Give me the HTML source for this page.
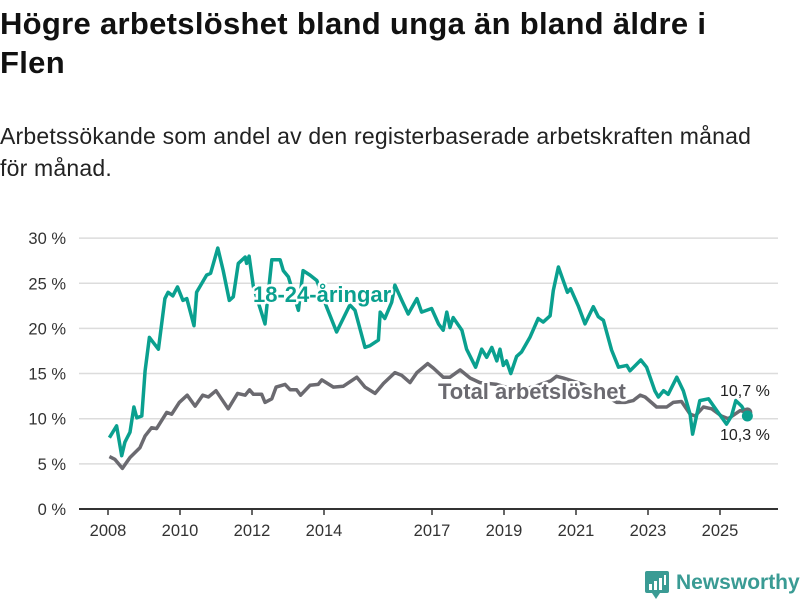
<!DOCTYPE html>
<html><head><meta charset="utf-8">
<style>
body{margin:0;background:#fff;font-family:"Liberation Sans","DejaVu Sans",sans-serif;}
#wrap{position:relative;width:800px;height:600px;overflow:hidden;}
h1{position:absolute;left:0;top:4px;margin:0;font-size:31px;line-height:39px;font-weight:bold;color:#111;width:800px;letter-spacing:0.3px;white-space:nowrap;}
.sub{position:absolute;left:0;top:120px;font-size:23px;line-height:32px;color:#222;width:800px;letter-spacing:0.2px;white-space:nowrap;}
</style></head>
<body><div id="wrap">
<h1>Högre arbetslöshet bland unga än bland äldre i<br>Flen</h1>
<div class="sub">Arbetssökande som andel av den registerbaserade arbetskraften månad<br>för månad.</div>
<svg id="chart" width="800" height="600" style="position:absolute;left:0;top:0"></svg>
</div>
<script>
const yTicks=[0,5,10,15,20,25,30];
const yTickLabels=["0 %","5 %","10 %","15 %","20 %","25 %","30 %"];
const xTicks=[2008,2010,2012,2014,2017,2019,2021,2023,2025];
const youthYears=[2008.04,2008.24,2008.38,2008.47,2008.61,2008.72,2008.80,2008.94,2009.03,2009.15,2009.40,2009.58,2009.67,2009.80,2009.93,2010.08,2010.19,2010.39,2010.46,2010.74,2010.85,2011.05,2011.20,2011.37,2011.48,2011.62,2011.81,2011.85,2011.92,2012.04,2012.36,2012.55,2012.78,2012.87,2013.01,2013.29,2013.42,2013.61,2013.80,2014.07,2014.35,2014.72,2014.86,2015.14,2015.28,2015.51,2015.56,2015.69,2015.88,2015.97,2016.16,2016.34,2016.58,2016.71,2016.99,2017.18,2017.31,2017.41,2017.50,2017.59,2017.83,2017.96,2018.21,2018.38,2018.52,2018.66,2018.80,2018.89,2018.98,2019.07,2019.19,2019.35,2019.49,2019.72,2019.95,2020.09,2020.28,2020.37,2020.51,2020.76,2020.85,2021.06,2021.25,2021.48,2021.62,2021.76,2021.99,2022.18,2022.41,2022.50,2022.80,2022.96,2023.19,2023.29,2023.43,2023.56,2023.80,2023.98,2024.17,2024.24,2024.44,2024.68,2024.91,2025.18,2025.32,2025.44,2025.60,2025.76];
const youthValues=[7.9,9.2,5.9,7.4,8.5,11.3,10.1,10.3,15.3,19,17.7,23.3,24,23.6,24.6,23.1,23.3,20.3,24,25.9,26.1,28.9,26.4,23.1,23.5,27.2,27.9,27.2,28,24.6,20.5,27.6,27.6,26.4,25.7,22,26.4,25.9,25.3,22.4,19.6,22.6,22,17.9,18.1,18.7,21.8,21.1,22.9,24.8,23.1,21.6,23.3,21.8,22.2,20.5,19.8,21.8,20.1,21.2,19.8,17.7,15.7,17.7,16.8,17.9,16.4,17.7,15.9,16.4,15,16.9,17.4,19,21.1,20.7,21.4,24.2,26.8,24,24.4,22.5,20.5,22.4,21.3,20.9,17.6,15.7,15.9,15.3,16.5,15.7,13.1,12.4,13.1,12.7,14.6,13.1,10.5,8.3,12,12.2,10.9,9.4,10.3,12,11.4,10.3];
const totalYears=[2008.04,2008.19,2008.40,2008.61,2008.89,2009.03,2009.21,2009.35,2009.63,2009.77,2009.98,2010.20,2010.42,2010.63,2010.79,2011.00,2011.34,2011.60,2011.81,2011.93,2012.04,2012.27,2012.36,2012.55,2012.67,2012.92,2013.06,2013.24,2013.35,2013.61,2013.84,2013.94,2014.26,2014.54,2014.91,2015.14,2015.42,2015.65,2015.97,2016.16,2016.39,2016.58,2016.88,2017.04,2017.31,2017.50,2017.78,2018.06,2018.33,2018.8,2019.3,2019.8,2020.3,2020.46,2020.65,2021.2,2021.7,2022.13,2022.36,2022.59,2022.78,2022.92,2023.24,2023.52,2023.70,2023.93,2024.17,2024.31,2024.54,2024.77,2025.04,2025.23,2025.56,2025.76];
const totalValues=[5.8,5.5,4.5,5.7,6.8,8.1,9,8.9,10.7,10.5,11.8,12.6,11.4,12.6,12.4,13.1,11.1,12.8,12.6,13.2,12.7,12.7,11.8,12.2,13.5,13.8,13.2,13.2,12.6,13.7,13.8,14.3,13.5,13.6,14.6,13.5,12.8,13.9,15.1,14.8,14,15.1,16.1,15.6,14.6,14.6,15.4,14.5,14,13.8,13.2,13.5,14.2,14.7,14.5,13.8,12.8,11.8,11.8,12,12.6,12.4,11.3,11.3,11.8,11.9,10.5,10.3,11.3,11.1,10.3,10,10.9,10.7];

const NS="http://www.w3.org/2000/svg";
const svg=document.getElementById('chart');
const X0=79,X1=778,Y0=509,PX_PER=9.03;
const x=yr=>108+(yr-2008)*36;
const y=v=>Y0-v*PX_PER;
function mk(tag,attrs,parent){const e=document.createElementNS(NS,tag);for(const k in attrs)e.setAttribute(k,attrs[k]);(parent||svg).appendChild(e);return e;}

yTicks.forEach((t,i)=>{
  if(t>0){const g=mk('line',{x1:X0,x2:X1,y1:y(t),y2:y(t),stroke:'#dcdcdc','stroke-width':1.5});
  
  }
  const l=mk('text',{x:66,y:y(t)+6,'text-anchor':'end','font-size':16.5,fill:'#333'});
  l.textContent=yTickLabels[i];
  
  
});
const ax=mk('line',{x1:X0,x2:X1,y1:Y0,y2:Y0,stroke:'#333','stroke-width':2});


xTicks.forEach(t=>{
  const tk=mk('line',{x1:x(t),x2:x(t),y1:Y0,y2:Y0+6,stroke:'#333','stroke-width':1.5});
  
  
  const l=mk('text',{x:x(t),y:Y0+27,'text-anchor':'middle','font-size':16.5,fill:'#333'});
  l.textContent=t;
  
  
});
function pathOf(xs,vs){return xs.map((t,i)=>(i?'L':'M')+x(t).toFixed(1)+','+y(vs[i]).toFixed(1)).join('');}
const tl=mk('path',{d:pathOf(totalYears,totalValues),fill:'none',stroke:'#6b6a70','stroke-width':3.5,'stroke-linejoin':'round'});


const yl=mk('path',{d:pathOf(youthYears,youthValues),fill:'none',stroke:'#0aa08f','stroke-width':3.5,'stroke-linejoin':'round'});



function lbl(txt,tx,ty,col,bold,size,halo){
  const t=mk('text',{x:tx,y:ty,'font-size':size,fill:col,'font-weight':bold?'bold':'normal',stroke:halo?'#fff':'none','stroke-width':halo?5:0,'paint-order':'stroke','stroke-linejoin':'round'});
  t.textContent=txt;
  return t;
}
const l1=lbl('18-24-åringar',253,302,'#0aa08f',true,22,true);


const l2=lbl('Total arbetslöshet',438,399,'#6b6a70',true,22,true);


const ty=totalYears.length-1, yy=youthYears.length-1;
const d1=mk('circle',{cx:x(totalYears[ty]),cy:y(totalValues[ty]),r:5,fill:'#6b6a70'});


const d2=mk('circle',{cx:x(youthYears[yy]),cy:y(youthValues[yy]),r:5.5,fill:'#0aa08f'});


const v1=lbl('10,7 %',720,396,'#222',false,16,true);


const v2=lbl('10,3 %',720,440,'#222',false,16,true);



const logo=mk('g',{});


mk('rect',{x:645,y:571,width:24,height:22,rx:2,fill:'#3a9b94'},logo);
mk('polygon',{points:'652,593 660,593 656,599',fill:'#3a9b94'},logo);
[[649,584,3,6],[654,581,3,9],[659,578,3,12],[664,575,2,10]].forEach(b=>mk('rect',{x:b[0],y:b[1],width:b[2],height:b[3],fill:'#fff'},logo));
const lt=mk('text',{x:676,y:589,'font-size':21,fill:'#3a9b94','font-weight':'bold'},logo);
lt.textContent='Newsworthy';
</script>
</body></html>
